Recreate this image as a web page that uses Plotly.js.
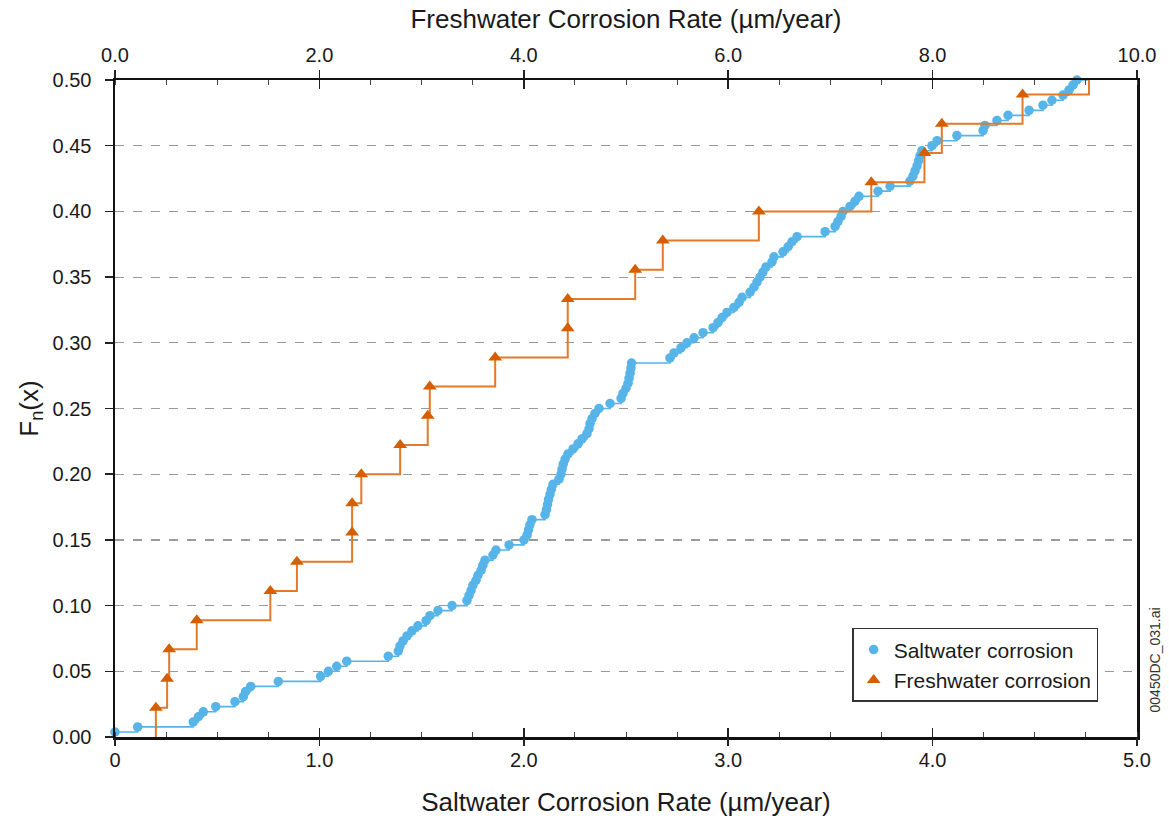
<!DOCTYPE html>
<html>
<head>
<meta charset="utf-8">
<script src="https://cdn.plot.ly/plotly-3.0.1.min.js"></script>
<style>html,body{margin:0;padding:0;background:#fff;}#chart{width:1169px;height:826px;}</style>
</head>
<body>
<div id="chart"></div>
<script>
// ---- Saltwater corrosion rates (µm/year), sorted ----
const saltRate = [
  0.000,0.111,0.383,0.408,0.432,0.493,0.587,0.628,0.639,0.664,
  0.799,1.006,1.044,1.085,1.134,1.337,1.386,1.394,1.409,1.429,
  1.453,1.482,1.522,1.541,1.580,1.649,1.722,1.732,1.742,1.751,
  1.766,1.776,1.791,1.800,1.810,1.849,1.864,1.928,2.001,2.016,
  2.023,2.030,2.040,2.104,2.111,2.116,2.121,2.128,2.135,2.143,
  2.172,2.182,2.187,2.193,2.202,2.216,2.241,2.265,2.285,2.309,
  2.319,2.324,2.334,2.348,2.368,2.422,2.476,2.485,2.500,2.510,
  2.515,2.520,2.524,2.527,2.715,2.735,2.769,2.798,2.833,2.877,
  2.926,2.950,2.970,2.994,3.028,3.053,3.068,3.107,3.126,3.141,
  3.156,3.170,3.185,3.214,3.224,3.268,3.293,3.312,3.337,3.474,
  3.523,3.537,3.552,3.562,3.596,3.620,3.640,3.733,3.792,3.889,
  3.904,3.914,3.924,3.931,3.938,3.948,3.997,4.022,4.119,4.247,
  4.256,4.315,4.369,4.472,4.540,4.584,4.638,4.667,4.687,4.706,
  4.760
];
// Empirical CDF levels Fn(x) for the saltwater points
const saltFn = [
  0.0038,0.0077,0.0115,0.0154,0.0192,0.0231,0.0269,0.0308,0.0346,0.0385,
  0.0423,0.0462,0.0500,0.0538,0.0577,0.0615,0.0654,0.0692,0.0731,0.0769,
  0.0808,0.0846,0.0885,0.0923,0.0962,0.1000,0.1038,0.1077,0.1115,0.1154,
  0.1192,0.1231,0.1269,0.1308,0.1346,0.1385,0.1423,0.1462,0.1500,0.1538,
  0.1577,0.1615,0.1654,0.1692,0.1731,0.1769,0.1808,0.1846,0.1885,0.1923,
  0.1962,0.2000,0.2038,0.2077,0.2115,0.2154,0.2192,0.2231,0.2269,0.2308,
  0.2346,0.2385,0.2423,0.2462,0.2500,0.2538,0.2577,0.2615,0.2654,0.2692,
  0.2731,0.2769,0.2808,0.2846,0.2885,0.2923,0.2962,0.3000,0.3038,0.3077,
  0.3115,0.3154,0.3192,0.3231,0.3269,0.3308,0.3346,0.3385,0.3423,0.3462,
  0.3500,0.3538,0.3577,0.3615,0.3654,0.3692,0.3731,0.3769,0.3808,0.3846,
  0.3885,0.3923,0.3962,0.4000,0.4038,0.4077,0.4115,0.4154,0.4192,0.4231,
  0.4269,0.4308,0.4346,0.4385,0.4423,0.4462,0.4500,0.4538,0.4577,0.4615,
  0.4654,0.4692,0.4731,0.4769,0.4808,0.4846,0.4885,0.4923,0.4962,0.5000,
  0.5038
];

// ---- Freshwater corrosion rates (µm/year), sorted ----
const freshRate = [
  0.40,0.51,0.53,0.80,1.52,1.78,2.32,2.32,2.41,2.79,
  3.06,3.08,3.72,4.43,4.43,5.09,5.36,6.30,7.40,7.92,
  8.09,8.88,9.53
];
const freshFn = [
  0.0222,0.0444,0.0667,0.0889,0.1111,0.1333,0.1556,0.1778,0.2000,0.2222,
  0.2444,0.2667,0.2889,0.3111,0.3333,0.3556,0.3778,0.4000,0.4222,0.4444,
  0.4667,0.4889,0.5111
];

// ---- Axis tick labels ----
const saltTickVals = [0, 1, 2, 3, 4, 5];
const saltTickText = ['0', '1.0', '2.0', '3.0', '4.0', '5.0'];
const freshTickVals = [0, 2, 4, 6, 8, 10];
const freshTickText = ['0.0', '2.0', '4.0', '6.0', '8.0', '10.0'];
const fnTickVals = [0, 0.05, 0.10, 0.15, 0.20, 0.25, 0.30, 0.35, 0.40, 0.45, 0.50];
const fnTickText = ['0.00','0.05','0.10','0.15','0.20','0.25','0.30','0.35','0.40','0.45','0.50'];

const seriesNames = ['Saltwater corrosion', 'Freshwater corrosion'];

const BLUE = '#56b4e9';
const ORANGE_MK = '#d55e00';
const ORANGE_LN = '#e37a2a';
const YMAX = 0.5;

// visible marker subsets (points inside the plotted Fn range)
function inRange(xs, ys) {
  const ox = [], oy = [];
  xs.forEach((v, i) => { if (ys[i] <= YMAX) { ox.push(v); oy.push(ys[i]); } });
  return {x: ox, y: oy};
}
const saltVis = inRange(saltRate, saltFn);
const freshVis = inRange(freshRate, freshFn);

const traces = [
  { // saltwater step line
    x: saltRate, y: saltFn, xaxis: 'x', yaxis: 'y',
    mode: 'lines', line: {shape: 'hv', color: BLUE, width: 1.6},
    showlegend: false, hoverinfo: 'skip'
  },
  { // saltwater markers
    x: saltVis.x, y: saltVis.y, xaxis: 'x', yaxis: 'y',
    mode: 'markers', name: seriesNames[0], legendgroup: 'a',
    marker: {symbol: 'circle', size: 9.5, color: BLUE},
    cliponaxis: false
  },
  { // freshwater step line (starts from Fn = 0)
    x: [freshRate[0]].concat(freshRate), y: [0].concat(freshFn), xaxis: 'x2', yaxis: 'y',
    mode: 'lines', line: {shape: 'hv', color: ORANGE_LN, width: 2},
    showlegend: false, hoverinfo: 'skip'
  },
  { // freshwater markers
    x: freshVis.x, y: freshVis.y, xaxis: 'x2', yaxis: 'y',
    mode: 'markers', name: seriesNames[1], legendgroup: 'b',
    marker: {symbol: 'triangle-up', size: 12, color: ORANGE_MK},
    cliponaxis: false
  },
  { x: [], y: [], xaxis: 'x3', yaxis: 'y', showlegend: false, hoverinfo: 'skip' },
  { x: [], y: [], xaxis: 'x4', yaxis: 'y', showlegend: false, hoverinfo: 'skip' },
  { x: [], y: [], xaxis: 'x5', yaxis: 'y', showlegend: false, hoverinfo: 'skip' }
];

const FONT = '"Liberation Sans", Arial, Helvetica, sans-serif';
const TXT = '#1a1a1a';

const layout = {
  width: 1169, height: 826,
  margin: {l: 115, r: 32, t: 80, b: 89, pad: 0, autoexpand: false},
  paper_bgcolor: '#ffffff', plot_bgcolor: '#ffffff',
  font: {family: FONT, color: TXT, size: 20},
  showlegend: true,
  legend: {
    x: 0.962, xanchor: 'right', y: 0.166, yanchor: 'top',
    bgcolor: '#ffffff', bordercolor: '#333333', borderwidth: 1.5,
    font: {family: FONT, size: 21, color: TXT},
    traceorder: 'grouped', tracegroupgap: 0
  },
  xaxis: {
    range: [0, 5], tickvals: saltTickVals, ticktext: saltTickText,
    ticks: 'outside', ticklen: 3, tickwidth: 1.5, tickcolor: '#222',
    showline: true, linewidth: 2.5, linecolor: '#111',
    showgrid: false, zeroline: false, automargin: false,
    tickfont: {family: FONT, size: 20, color: TXT},
    minor: {ticks: 'inside', dtick: 0.25, ticklen: 5, tickwidth: 1, tickcolor: '#444', showgrid: false},
    title: {text: 'Saltwater Corrosion Rate (µm/year)', font: {family: FONT, size: 26, color: TXT}, standoff: 24}
  },
  xaxis2: {
    overlaying: 'x', side: 'top', anchor: 'y',
    range: [0, 10], tickvals: freshTickVals, ticktext: freshTickText,
    ticks: 'outside', ticklen: 8, tickwidth: 1.5, tickcolor: '#222',
    showline: true, linewidth: 2.5, linecolor: '#111',
    showgrid: false, zeroline: false, automargin: false,
    tickfont: {family: FONT, size: 20, color: TXT},
    minor: {ticks: 'inside', dtick: 0.5, ticklen: 5, tickwidth: 1, tickcolor: '#444', showgrid: false},
    title: {text: 'Freshwater Corrosion Rate (µm/year)', font: {family: FONT, size: 26, color: TXT}, standoff: 8}
  },
  xaxis3: {
    overlaying: 'x', side: 'bottom', anchor: 'y', range: [0, 5],
    tickvals: saltTickVals, ticks: 'inside', ticklen: 9, tickwidth: 1.5, tickcolor: '#222',
    showticklabels: false, showline: false, showgrid: false, zeroline: false
  },
  xaxis4: {
    overlaying: 'x', side: 'top', anchor: 'y', range: [0, 10],
    tickvals: freshTickVals, ticks: 'inside', ticklen: 9, tickwidth: 1.5, tickcolor: '#222',
    showticklabels: false, showline: false, showgrid: false, zeroline: false
  },
  xaxis5: {
    overlaying: 'x', side: 'bottom', anchor: 'y', range: [0, 5],
    tickvals: saltTickVals, ticks: 'outside', ticklen: 8, tickwidth: 1.5, tickcolor: '#222',
    showticklabels: false, showline: false, showgrid: false, zeroline: false
  },
  yaxis: {
    range: [0, 0.5], tickvals: fnTickVals, ticktext: fnTickText,
    ticks: 'outside', ticklen: 8, tickwidth: 1.5, tickcolor: '#222',
    ticklabelstandoff: 9,
    showline: true, mirror: true, linewidth: 2.5, linecolor: '#111',
    showgrid: true, gridcolor: '#9a9a9a', gridwidth: 1.2, griddash: 'dash',
    zeroline: false, automargin: false,
    tickfont: {family: FONT, size: 20, color: TXT},
    title: {text: 'F<sub>n</sub>(x)', font: {family: FONT, size: 26, color: TXT}, standoff: 7}
  },
  annotations: [{
    text: '00450DC_031.ai', xref: 'paper', yref: 'paper',
    x: 1.0176, y: 0.118, xanchor: 'center', yanchor: 'middle',
    textangle: -90, showarrow: false,
    font: {family: FONT, size: 14, color: '#333'}
  }]
};

Plotly.newPlot('chart', traces, layout, {displayModeBar: false, staticPlot: true});
</script>
</body>
</html>
